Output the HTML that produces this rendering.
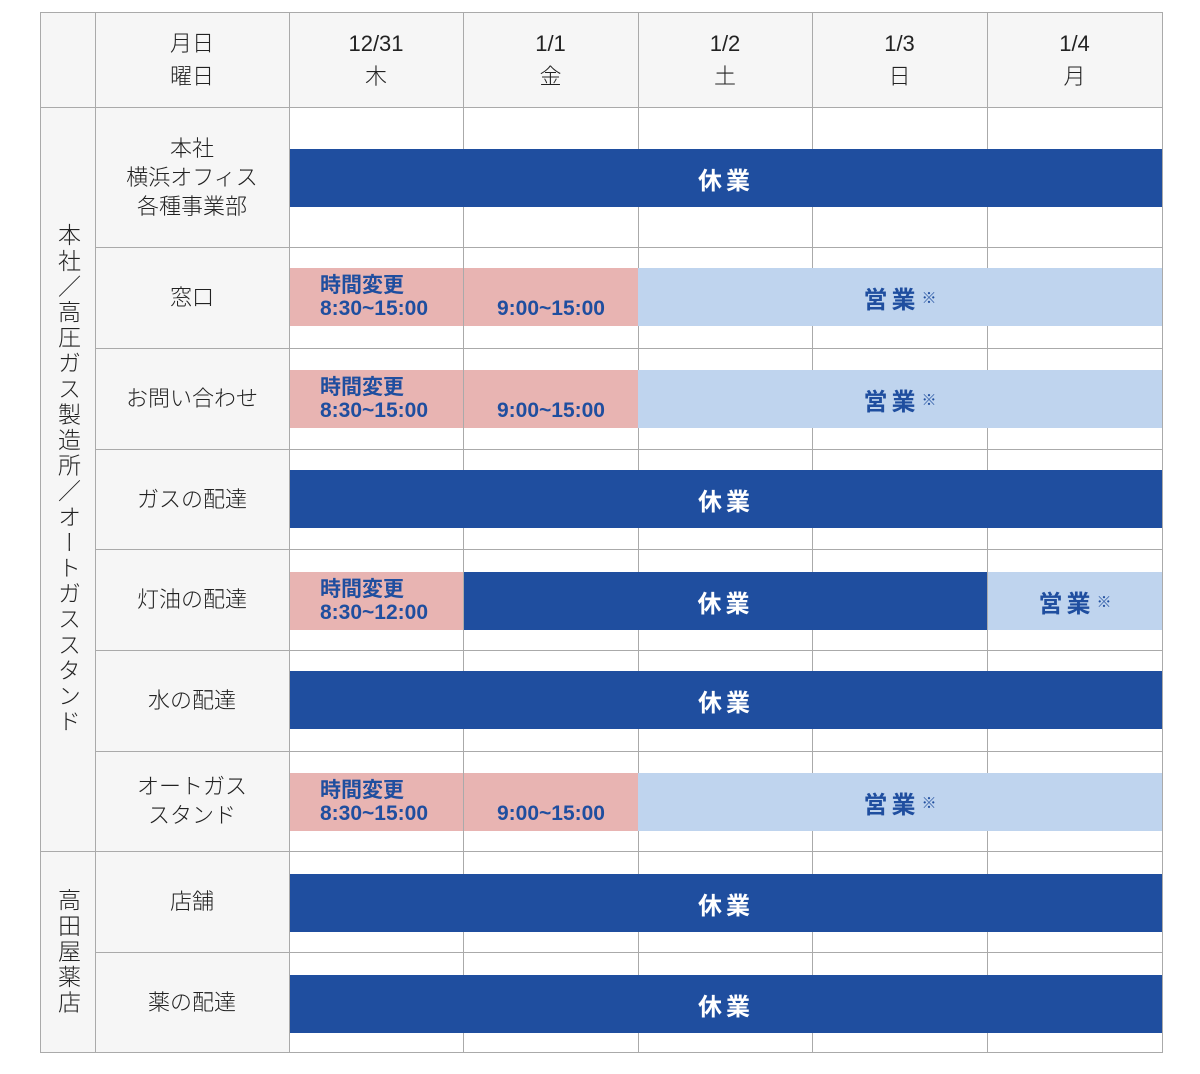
<!DOCTYPE html><html><head><meta charset="utf-8"><style>
body{margin:0;width:1200px;height:1074px;background:#fff;position:relative;overflow:hidden;font-family:"Liberation Sans","Noto Sans CJK JP",sans-serif;}
.a{position:absolute;box-sizing:border-box}
.c{display:flex;align-items:center;justify-content:center;text-align:center;color:#222;font-size:22px;line-height:29px;font-weight:300}
.h{line-height:33px}
.g{background:#f6f6f6}
.hl{position:absolute;height:1px;background:#aaa}
.vl{position:absolute;width:1px;background:#aaa}
.bar{position:absolute;box-sizing:border-box;height:58px;display:flex;align-items:center;justify-content:center;font-weight:bold;font-size:24px;letter-spacing:4px}
.d{background:#1f4e9f;color:#fff}
.l{background:#bfd4ee;color:#1f4e9f}
.p{background:#e8b4b2;color:#1f4e9f;font-size:21px;letter-spacing:0;line-height:23px}
.pb{align-items:flex-end;padding-bottom:6px}
sup{font-size:15px;letter-spacing:0;margin-left:2px;vertical-align:10px}
</style></head><body>
<div class="a g" style="left:40px;top:12px;width:1122px;height:95px"></div>
<div class="a g" style="left:40px;top:107px;width:249px;height:946px"></div>
<div class="a c h" style="left:95px;top:12px;width:194px;height:95px">月日<br>曜日</div>
<div class="a c h" style="left:289px;top:12px;width:174px;height:95px">12/31<br>木</div>
<div class="a c h" style="left:463px;top:12px;width:175px;height:95px">1/1<br>金</div>
<div class="a c h" style="left:638px;top:12px;width:174px;height:95px">1/2<br>土</div>
<div class="a c h" style="left:812px;top:12px;width:175px;height:95px">1/3<br>日</div>
<div class="a c h" style="left:987px;top:12px;width:175px;height:95px">1/4<br>月</div>
<div class="a c" style="left:40px;top:107px;width:55px;height:744px"><span style="writing-mode:vertical-rl;line-height:24px;font-size:23px;letter-spacing:2.6px">本社／高圧ガス製造所／オートガススタンド</span></div>
<div class="a c" style="left:40px;top:851px;width:55px;height:202px"><span style="writing-mode:vertical-rl;line-height:24px;font-size:23px;letter-spacing:2.6px">高田屋薬店</span></div>
<div class="a c" style="left:95px;top:107px;width:194px;height:140px">本社<br>横浜オフィス<br>各種事業部</div>
<div class="a c" style="left:95px;top:247px;width:194px;height:101px">窓口</div>
<div class="a c" style="left:95px;top:348px;width:194px;height:101px">お問い合わせ</div>
<div class="a c" style="left:95px;top:449px;width:194px;height:100px">ガスの配達</div>
<div class="a c" style="left:95px;top:549px;width:194px;height:101px">灯油の配達</div>
<div class="a c" style="left:95px;top:650px;width:194px;height:101px">水の配達</div>
<div class="a c" style="left:95px;top:751px;width:194px;height:100px">オートガス<br>スタンド</div>
<div class="a c" style="left:95px;top:851px;width:194px;height:101px">店舗</div>
<div class="a c" style="left:95px;top:952px;width:194px;height:101px">薬の配達</div>

<div class="hl" style="left:40px;top:12px;width:1123px"></div>
<div class="hl" style="left:40px;top:107px;width:1123px"></div>
<div class="hl" style="left:95px;top:247px;width:1068px"></div>
<div class="hl" style="left:95px;top:348px;width:1068px"></div>
<div class="hl" style="left:95px;top:449px;width:1068px"></div>
<div class="hl" style="left:95px;top:549px;width:1068px"></div>
<div class="hl" style="left:95px;top:650px;width:1068px"></div>
<div class="hl" style="left:95px;top:751px;width:1068px"></div>
<div class="hl" style="left:40px;top:851px;width:1123px"></div>
<div class="hl" style="left:95px;top:952px;width:1068px"></div>
<div class="hl" style="left:40px;top:1052px;width:1123px"></div>
<div class="vl" style="left:40px;top:12px;height:1041px"></div>
<div class="vl" style="left:95px;top:12px;height:1041px"></div>
<div class="vl" style="left:289px;top:12px;height:1041px"></div>
<div class="vl" style="left:463px;top:12px;height:1041px"></div>
<div class="vl" style="left:638px;top:12px;height:1041px"></div>
<div class="vl" style="left:812px;top:12px;height:1041px"></div>
<div class="vl" style="left:987px;top:12px;height:1041px"></div>
<div class="vl" style="left:1162px;top:12px;height:1041px"></div>

<div class="bar d" style="left:290px;top:149px;width:872px">休業</div>

<div class="bar p" style="left:290px;top:268px;width:173px;justify-content:flex-start;padding-left:30px;text-align:left">時間変更<br>8:30~15:00</div>
<div class="bar p pb" style="left:464px;top:268px;width:174px">9:00~15:00</div>
<div class="bar l" style="left:638px;top:268px;width:524px">営業<sup>※</sup></div>

<div class="bar p" style="left:290px;top:370px;width:173px;justify-content:flex-start;padding-left:30px;text-align:left">時間変更<br>8:30~15:00</div>
<div class="bar p pb" style="left:464px;top:370px;width:174px">9:00~15:00</div>
<div class="bar l" style="left:638px;top:370px;width:524px">営業<sup>※</sup></div>

<div class="bar d" style="left:290px;top:470px;width:872px">休業</div>

<div class="bar p" style="left:290px;top:572px;width:173px;justify-content:flex-start;padding-left:30px;text-align:left">時間変更<br>8:30~12:00</div>
<div class="bar d" style="left:464px;top:572px;width:523px">休業</div>
<div class="bar l" style="left:988px;top:572px;width:174px">営業<sup>※</sup></div>

<div class="bar d" style="left:290px;top:671px;width:872px">休業</div>

<div class="bar p" style="left:290px;top:773px;width:173px;justify-content:flex-start;padding-left:30px;text-align:left">時間変更<br>8:30~15:00</div>
<div class="bar p pb" style="left:464px;top:773px;width:174px">9:00~15:00</div>
<div class="bar l" style="left:638px;top:773px;width:524px">営業<sup>※</sup></div>

<div class="bar d" style="left:290px;top:874px;width:872px">休業</div>
<div class="bar d" style="left:290px;top:975px;width:872px">休業</div>
</body></html>
